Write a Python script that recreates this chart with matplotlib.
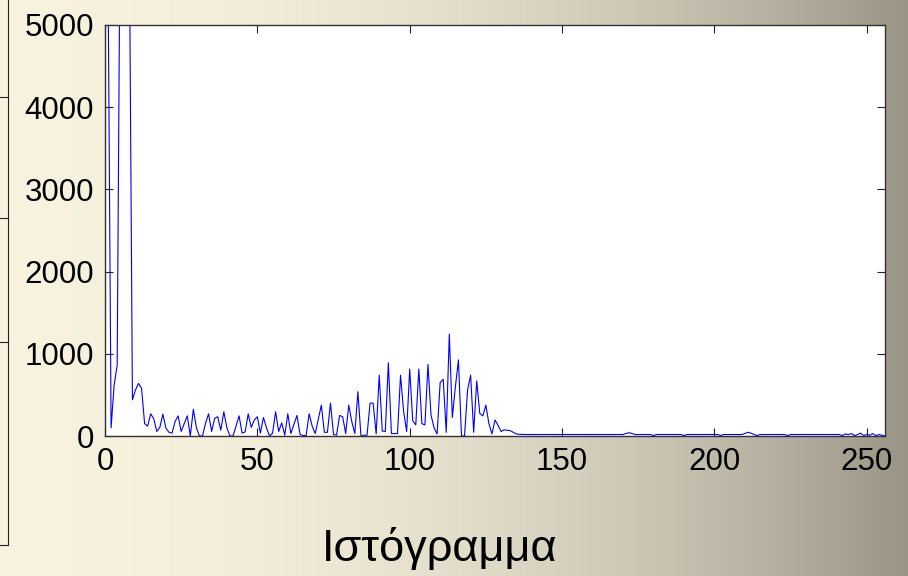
import numpy as np
import matplotlib.pyplot as plt
from matplotlib.lines import Line2D

plt.rcParams['font.family'] = ['Liberation Sans', 'DejaVu Sans']

# histogram counts for grey levels 1..256
counts = [
    5600, 100, 620, 860, 6500, 9000, 8000, 6000, 440, 560,
    640, 580, 150, 120, 270, 210, 55, 105, 265, 95,
    45, 35, 175, 245, 55, 150, 245, 0, 325, 100,
    0, 0, 155, 270, 55, 215, 235, 70, 295, 100,
    0, 0, 120, 245, 35, 50, 270, 105, 195, 235,
    35, 225, 100, 0, 35, 295, 55, 160, 10, 270,
    30, 140, 250, 20, 5, 5, 270, 120, 30, 200,
    375, 45, 45, 400, 20, 10, 250, 235, 30, 375,
    175, 30, 540, 0, 10, 10, 400, 400, 25, 740,
    60, 55, 890, 30, 30, 30, 740, 300, 55, 815,
    185, 135, 815, 150, 135, 870, 255, 100, 25, 650,
    690, 45, 1240, 225, 600, 925, 0, 0, 560, 740,
    45, 670, 275, 245, 375, 150, 25, 195, 130, 55,
    75, 70, 65, 45, 25,
    20, 20, 18, 18, 18, 18, 18, 18, 18, 18,
    18, 18, 18, 18, 18, 18, 18, 18, 18, 18,
    18, 18, 18, 18, 18, 18, 18, 18, 18, 18,
    18, 18, 18, 18, 18, 30, 40, 30, 18, 18,
    18, 18, 18, 18, 5, 18, 18, 18, 18, 18,
    18, 18, 18, 18, 5, 18, 18, 18, 18, 18,
    18, 18, 18, 18, 18, 18, 5, 18, 18, 18,
    18, 18, 18, 18, 30, 45, 35, 18, 5, 18,
    18, 18, 18, 18, 18, 18, 18, 18, 5, 18,
    18, 18, 18, 18, 18, 18, 18, 18, 18, 18,
    18, 18, 18, 18, 18, 18, 5, 25, 18, 30,
    5, 18, 35, 5, 18, 10, 30, 5, 18, 10, 0,
]
levels = np.arange(1, len(counts) + 1)
xticks = [0, 50, 100, 150, 200, 250]
yticks = [0, 1000, 2000, 3000, 4000, 5000]
title = 'Ιστόγραμμα'

fig = plt.figure(figsize=(9.08, 5.76), dpi=100)

# slide background: cream on the left fading to grey on the right
bg = fig.add_axes([0, 0, 1, 1], zorder=0)
t = np.linspace(0, 1, 908) ** 2.2
c0 = np.array([0.97, 0.95, 0.87])
c1 = np.array([0.60, 0.58, 0.52])
row = c0[None, :] * (1 - t[:, None]) + c1[None, :] * t[:, None]
img = np.repeat(row[None, :, :], 10, axis=0)
bg.imshow(img, aspect='auto', extent=[0, 1, 0, 1])
bg.set_axis_off()

# stray frame bits on the left edge
yb = 1 - 545 / 576
fig.add_artist(Line2D([8 / 908, 8 / 908], [yb, 1], color='#222222', lw=0.8))
fig.add_artist(Line2D([0, 8 / 908], [yb, yb], color='#222222', lw=0.8))
for yp in [97, 218, 342]:
    fig.add_artist(Line2D([0, 8 / 908], [1 - yp / 576, 1 - yp / 576], color='#222222', lw=0.8))

ax = fig.add_axes([105 / 908, 1 - 436 / 576, 780 / 908, 411 / 576], zorder=1)
ax.set_facecolor('white')
ax.plot(levels, counts, color='#0000ff', lw=0.8)
ax.set_xlim(0, 256)
ax.set_ylim(0, 5000)
ax.set_xticks(xticks)
ax.set_yticks(yticks)
ax.tick_params(direction='in', top=True, right=True, length=6, width=0.8,
               labelsize=22.5, pad=8, color='#222222')
for s in ax.spines.values():
    s.set_color('#333333')
    s.set_linewidth(1.0)

fig.text(0.484, 1 - 549 / 576, title, ha='center', va='center', fontsize=32.5)

fig.savefig('out.png', dpi=100)
